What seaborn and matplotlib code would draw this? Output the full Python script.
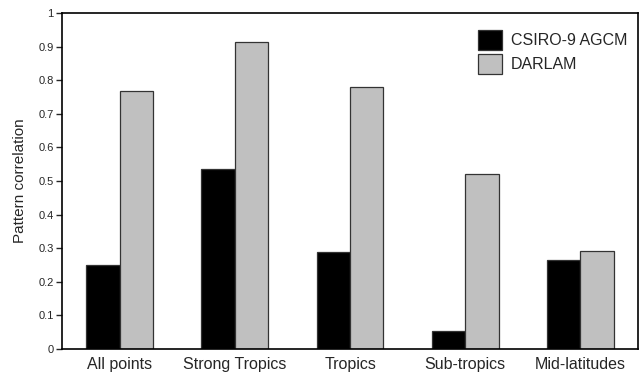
import pandas as pd
import matplotlib
matplotlib.use('Agg')
import matplotlib.pyplot as plt
import seaborn as sns

# data
regions = ['All points', 'Strong Tropics', 'Tropics', 'Sub-tropics', 'Mid-latitudes']
csiro = [0.251, 0.537, 0.290, 0.052, 0.266]
darlam = [0.769, 0.915, 0.781, 0.522, 0.293]
models = ['CSIRO-9 AGCM', 'DARLAM']
y_ticks = [0, 0.1, 0.2, 0.3, 0.4, 0.5, 0.6, 0.7, 0.8, 0.9, 1]
y_labels = ['0', '0.1', '0.2', '0.3', '0.4', '0.5', '0.6', '0.7', '0.8', '0.9', '1']

df = pd.DataFrame({
    'region': regions * 2,
    'model': [models[0]] * len(regions) + [models[1]] * len(regions),
    'value': csiro + darlam,
})

sns.set_style('white')
plt.rcParams['font.family'] = ['Liberation Sans', 'DejaVu Sans']

fig = plt.figure(figsize=(6.4, 3.76), dpi=100)
ax = fig.add_axes([0.097, 0.072, 0.9, 0.893])

sns.barplot(data=df, x='region', y='value', hue='model', order=regions,
            hue_order=models, palette=['#000000', '#c0c0c0'], width=0.58,
            edgecolor='#333333', linewidth=0.9, saturation=1, ax=ax)

ax.set_xlim(-0.5, 4.5)
ax.set_ylim(0, 1)
ax.set_yticks(y_ticks)
ax.set_yticklabels(y_labels, fontsize=8)
ax.tick_params(axis='y', direction='out', length=4, width=1, pad=2, left=True)
ax.tick_params(axis='x', length=0, labelsize=11.5, pad=6)
ax.set_xlabel('')
ax.set_ylabel('Pattern correlation', fontsize=11, labelpad=8)
for s in ax.spines.values():
    s.set_color('black')
    s.set_linewidth(1.2)

ax.legend(loc='upper right', frameon=False, fontsize=11.5, handlelength=1.5,
          handleheight=1.55, handletextpad=0.55, labelspacing=0.25,
          borderaxespad=0, bbox_to_anchor=(0.993, 0.97))

fig.savefig('out.png', dpi=100)
